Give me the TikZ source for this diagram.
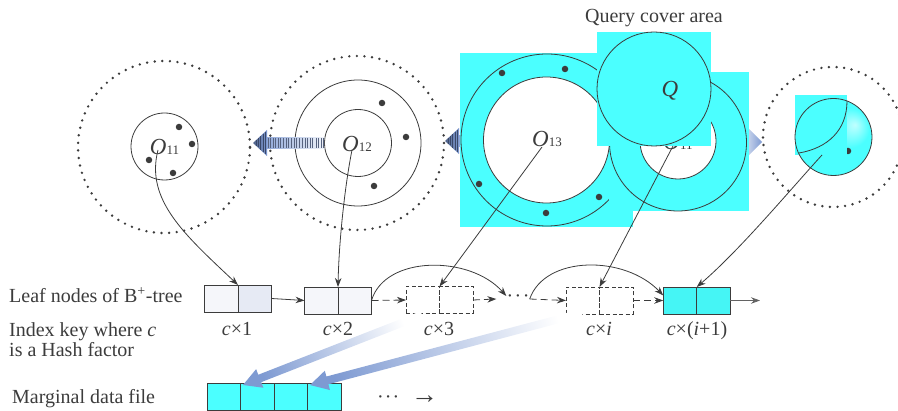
\documentclass[tikz,border=0pt]{standalone}
\usepackage{fontspec}
\setmainfont{Liberation Serif}
\usetikzlibrary{arrows.meta,calc}

\definecolor{ink}{HTML}{3C3C3C}
\definecolor{aqua}{RGB}{75,255,255}
\definecolor{pale}{HTML}{F5F6FA}
\definecolor{paleblue}{HTML}{E6EAF4}
\definecolor{steel}{HTML}{7E9AD2}
\definecolor{navy}{HTML}{3A4868}

% soft highlight for the filled circle on the right
\pgfdeclareradialshading{glow}{\pgfpoint{14bp}{8bp}}{color(0bp)=(white!65!aqua); color(13bp)=(aqua); color(50bp)=(aqua)}

\newcommand{\Olbl}[1]{{\fontsize{23}{23}\selectfont\itshape O}{\fontsize{13}{13}\selectfont #1}}

% striped arrow pointing left, tip at (#1,#2)
\newcommand{\stripearrow}[2]{%
  \begin{scope}[shift={(#1,#2)}]
    \shade[left color=steel!85!white, right color=white!88!steel] (14,-5.5) rectangle (71,5.5);
    \foreach \x in {15.5,17.5,20,22,25.5,27.5,30,33,35,38,41,43.5,46,49,52,54.5,57,59.5,63.5,65.5,68,70}
      \draw[navy!85, line width=0.6pt] (\x,-5) -- (\x,5);
    \shade[left color=navy!70!steel, right color=steel] (0,0) -- (14,-13) -- (14,13) -- cycle;
    \foreach \x in {3,5,7.5,10,12.5}
      \draw[navy, line width=0.6pt] (\x,-0.9*\x) -- (\x,0.9*\x);
  \end{scope}}

% broad shaded arrow from #1 (pale end) to #2 (tip), #3 = shading angle
\newcommand{\fatarrow}[3]{%
  \coordinate (fs) at #1;
  \coordinate (ft) at #2;
  \coordinate (fh) at ($(ft)!18pt!(fs)$);
  \shade[top color=white, bottom color=steel, shading angle=#3]
    ($(fs)!4pt!90:(ft)$) -- ($(fh)!4pt!-90:(fs)$) -- ($(fh)!10pt!-90:(fs)$) -- (ft)
    -- ($(fh)!10pt!90:(fs)$) -- ($(fh)!4pt!90:(fs)$) -- ($(fs)!4pt!-90:(ft)$) -- cycle;}

\tikzset{
  ln/.style={draw=ink, line width=0.8pt},
  tip/.style={-{Stealth[length=9pt,width=6.5pt]}},
  dotring/.style={circle, inner sep=0pt, draw=ink, line width=2.7pt, line cap=round, dash pattern=on 0pt off 7.6pt},
  ring/.style={circle, draw=ink, line width=0.8pt, inner sep=0pt, outer sep=0pt},
  dot/.style={circle, fill=ink, minimum size=6.5pt, inner sep=0pt},
  cell/.style={draw=ink, line width=0.9pt, minimum width=33.5pt, minimum height=27pt, inner sep=0pt, outer sep=0pt},
  dcell/.style={cell, dash pattern=on 4pt off 2.5pt, fill=white},
  lbl/.style={text=ink, font=\fontsize{20}{22}\selectfont, inner sep=0pt},
}

\begin{document}
\begin{tikzpicture}[x=1pt,y=-1pt]
\path[use as bounding box] (0,0) rectangle (898,411);

% ---- first cluster O11
\node[dotring, minimum size=172pt] (d1) at (164,147) {};
\node[ring, minimum size=67pt] (c1) at (164.5,146.5) {};
\node[dot] (p1a) at (179,127) {};
\node[dot] (p1b) at (192,144) {};
\node[dot] (p1c) at (149,160) {};
\node[dot] (p1d) at (173,173) {};
\node[lbl, anchor=base] (o11) at (164.5,155) {\Olbl{11}};

% ---- second cluster O12
\node[dotring, minimum size=174pt] (d2) at (357,143) {};
\node[ring, minimum size=126pt] (c2o) at (358,143) {};
\node[ring, minimum size=67pt] (c2i) at (358,143) {};
\node[dot] (p2a) at (382,103) {};
\node[dot] (p2b) at (406,137) {};
\node[dot] (p2c) at (374,186) {};
\node[lbl, anchor=base] (o12) at (357,151.7) {\Olbl{12}};

% ---- striped arrows between clusters
\stripearrow{253}{143}
\stripearrow{445}{141}

% ---- O13 ring
\fill[aqua] (460,53) rectangle (633,227);
\node[ring, minimum size=172pt] (c3o) at (547,140) {};
\node[ring, minimum size=126pt, fill=white] (c3i) at (546.5,140) {};
\node[dot] (p3a) at (502,73) {};
\node[dot] (p3b) at (565,69) {};
\node[dot] (p3c) at (479,184) {};
\node[dot] (p3d) at (546,213) {};
\node[dot] (p3e) at (599,197) {};
\node[lbl, anchor=base] (o13) at (547,146.7) {\Olbl{13}};

% ---- pointer to the right cluster
\shade[left color=white!55!steel, right color=steel] (748,128) -- (762,142) -- (748,156) -- cycle;

% ---- O11 ring under the query
\fill[aqua] (609,72) rectangle (749,211);
\node[ring, minimum size=137pt] (c4o) at (678,142.5) {};
\node[ring, minimum size=76pt, fill=white] (c4i) at (678,141) {};
\node[lbl, anchor=base] (o11b) at (678,150) {\Olbl{11}};

% ---- query circle
\fill[aqua] (597,32) rectangle (711,146);
\node[ring, minimum size=114pt] (q) at (654,89) {};
\node[lbl, anchor=base, font=\fontsize{23}{23}\selectfont\itshape] (ql) at (670,97) {Q};
\node[lbl, anchor=base] (qa) at (654,23) {Query cover area};

% ---- right cluster
\node[dotring, minimum size=140pt] (d5) at (833,137) {};
\shade[shading=glow] (833.5,137) circle (38.5);
\node[dot] (p5) at (848,151) {};
\fill[aqua] (795,95) rectangle (847,155);
\node[ring, minimum size=77pt] (c5) at (833.5,137) {};
\draw[ln] (847,101) .. controls (847,130) and (828,148) .. (799,153);

% ---- leaf nodes of the B+-tree
\node[cell, fill=pale] (b1l) at (221.25,298.5) {};
\node[cell, fill=paleblue] (b1r) at (254.75,298.5) {};
\node[cell, fill=pale] (b2l) at (321.25,300.5) {};
\node[cell, fill=pale] (b2r) at (354.75,300.5) {};
\node[dcell] (b3l) at (422.75,300) {};
\node[dcell] (b3r) at (456.25,300) {};
\node[lbl] (dots) at (518,299) {·\kern1.5pt·\kern1.5pt·};
\node[dcell] (bil) at (582.75,300.5) {};
\node[dcell] (bir) at (616.25,300.5) {};
\node[cell, fill=aqua!92!teal] (bjl) at (680,300.5) {};
\node[cell, fill=aqua!92!teal] (bjr) at (713.5,300.5) {};
\coordinate (bend) at (760,300.5);

\draw[ln, tip] (b1r.east) -- (b2l.west);
\draw[ln, tip, dash pattern=on 7pt off 4pt] (b2r.east) -- (b3l.west);
\draw[ln, tip, dash pattern=on 7pt off 4pt] (b3r.east) -- ([xshift=-10pt]dots.west);
\draw[ln, tip, dash pattern=on 7pt off 4pt] (dots.east) -- (bil.west);
\draw[ln, tip, dash pattern=on 7pt off 4pt] (bir.east) -- (bjl.west);
\draw[draw=ink!80, line width=0.8pt, tip] (bjr.east) -- (bend);
\draw[ln, tip] (b2r.east) .. controls (385,255) and (470,255) .. ([yshift=3pt]dots.west);
\draw[ln, tip] (dots.east) .. controls (545,255) and (625,255) .. ([yshift=5pt]bjl.west);

% ---- key labels
\node[lbl, anchor=base] (k1) at (237,336) {\textit{c}×1};
\node[lbl, anchor=base] (k2) at (338,336) {\textit{c}×2};
\node[lbl, anchor=base] (k3) at (439,336) {\textit{c}×3};
\node[lbl, anchor=base] (ki) at (599,336) {\textit{c}×\textit{i}};
\node[lbl, anchor=base] (kj) at (697,336) {\textit{c}×(\textit{i}+1)};

\node[lbl, anchor=base west] (t1) at (9,303) {Leaf nodes of B\textsuperscript{+}-tree};
\node[lbl, anchor=base west] (t2) at (9,337) {Index key where \textit{c}};
\node[lbl, anchor=base west] (t3) at (9,357) {is a Hash factor};
\node[lbl, anchor=base west] (t4) at (12,404) {Marginal data file};

% ---- marginal data file
\node[cell, fill=aqua] (m1) at (223.75,396.5) {};
\node[cell, fill=aqua] (m2) at (257.25,396.5) {};
\node[cell, fill=aqua] (m3) at (290.75,396.5) {};
\node[cell, fill=aqua] (m4) at (324.25,396.5) {};
\node[lbl, anchor=base west] (more) at (377,404) {·\kern1pt·\kern1pt·\hspace{12pt}{\fontsize{27}{27}\selectfont →}};

\fatarrow{(422,315)}{(243,385)}{-69}
\fatarrow{(582,313)}{(310,385)}{-75}

% ---- pointers from the circles to the leaf nodes
\coordinate (s1) at (158,150);
\coordinate (s2) at (352,150);
\coordinate (s3) at (542,147);
\coordinate (s4) at (673,146);
\coordinate (s5) at (822,155);
\draw[ln, tip] (s1) .. controls (145,200) and (185,235) .. (b1l.north east);
\draw[ln, tip] (s2) .. controls (345,185) and (339,240) .. (b2l.north east);
\draw[ln, tip] (s3) -- (b3l.north east);
\draw[ln, tip] (s4) -- (bil.north east);
\draw[ln, tip] (s5) .. controls (790,190) and (740,250) .. (bjl.north east);
\end{tikzpicture}
\end{document}
